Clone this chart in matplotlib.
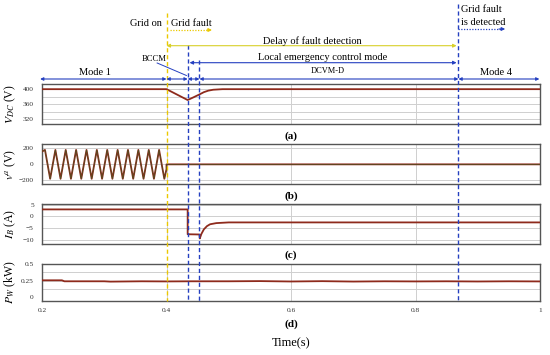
import matplotlib
matplotlib.use("Agg")
import matplotlib.pyplot as plt

plt.rcParams['font.family'] = ['Liberation Serif', 'DejaVu Serif']
plt.rcParams['mathtext.fontset'] = 'stix'

# ---------------- data ----------------
t_vdc = [0.2, 0.4, 0.434, 0.443, 0.453, 0.460, 0.467, 0.475, 0.49, 1.0]
vdc = [400, 400, 371, 378, 386, 392, 396, 398.5, 400, 400]

t_va = [0.2, 0.2048, 0.2131, 0.2215, 0.2298, 0.2381, 0.2465, 0.2548, 0.2631,
        0.2715, 0.2798, 0.2881, 0.2965, 0.3048, 0.3131, 0.3215, 0.3298,
        0.3381, 0.3465, 0.3548, 0.3631, 0.3715, 0.3798, 0.3881, 0.3965,
        0.4, 0.4, 1.0]
va = [160, 180, -180, 180, -180, 180, -180, 180, -180,
      180, -180, 180, -180, 180, -180, 180, -180,
      180, -180, 180, -180, 180, -180, 180, -180,
      -60, 0, 0]

t_ib = [0.2, 0.434, 0.434, 0.453, 0.4535, 0.456, 0.460, 0.465, 0.470, 0.480, 0.50, 1.0]
ib = [3.0, 3.0, -7.7, -7.8, -9.5, -7.6, -5.6, -4.2, -3.4, -2.9, -2.6, -2.6]

t_pw = [0.2, 0.232, 0.236, 0.3, 0.31, 0.36, 0.40, 0.44, 0.5, 0.55, 0.6, 0.65,
        0.7, 0.75, 0.8, 0.85, 0.9, 0.95, 1.0]
pw = [0.255, 0.255, 0.24, 0.24, 0.235, 0.24, 0.238, 0.24, 0.24, 0.243, 0.237,
      0.242, 0.236, 0.24, 0.238, 0.24, 0.237, 0.24, 0.238]

x_ticks = [0.2, 0.4, 0.6, 0.8, 1.0]
x_ticklabels = ['0.2', '0.4', '0.6', '0.8', '1']

t_on, t_f1, t_f2, t_det = 0.4, 0.434, 0.453, 0.869

# ---------------- figure ----------------
W, H = 550, 355
fig = plt.figure(figsize=(W / 100, H / 100), dpi=100)

LINE = '#8E2A1C'
FRAME = '#555555'
GRID = '#CFCFCF'

def px_axes(top, bottom, left=42, right=540):
    return fig.add_axes([left / W, 1 - bottom / H, (right - left) / W, (bottom - top) / H])

panels = [
    dict(top=84.3, bottom=124, ylim=(307, 413), ticks=[320, 360, 400],
         grid=[320, 340, 360, 380, 400], label=r'$V_{DC}$ (V)', t=t_vdc, y=vdc),
    dict(top=144.3, bottom=184, ylim=(-245, 250), ticks=[-200, 0, 200],
         grid=[-200, 0, 200], label=r'$v^{a}$ (V)', t=t_va, y=va),
    dict(top=204.3, bottom=244, ylim=(-11.9, 5.2), ticks=[-10, -5, 0, 5],
         grid=[-10, -5, 0, 5], label=r'$I_{B}$ (A)', t=t_ib, y=ib),
    dict(top=264.3, bottom=300.7, ylim=(-0.057, 0.5), ticks=[0, 0.25, 0.5],
         grid=[0.125, 0.25, 0.375], label=r'$P_{W}$ (kW)', t=t_pw, y=pw),
]
tick_fmt = [None, None, None, ['0', '0.25', '0.5']]

axes = []
for i, p in enumerate(panels):
    ax = px_axes(p['top'], p['bottom'])
    ax.set_xlim(0.2, 1.0)
    ax.set_ylim(*p['ylim'])
    for g in p['grid']:
        ax.axhline(g, color=GRID, lw=0.7, zorder=1)
    for g in [0.4, 0.6, 0.8]:
        ax.axvline(g, color=GRID, lw=0.7, zorder=1)
    ax.plot(p['t'], p['y'], color=LINE, lw=1.3, zorder=3)
    if i == 1:
        ax.plot(p['t'], p['y'], color='#3F5A22', lw=0.4, zorder=4)
    ax.set_yticks(p['ticks'])
    if tick_fmt[i] is not None:
        ax.set_yticklabels(tick_fmt[i])
    ax.tick_params(axis='both', length=0, labelsize=5.3, pad=6, colors='#333333')
    if i < 3:
        ax.set_xticks([])
    else:
        ax.set_xticks(x_ticks)
        ax.set_xticklabels(x_ticklabels)
        ax.tick_params(axis='x', pad=5)
    for s in ax.spines.values():
        s.set_color(FRAME)
        s.set_linewidth(1.0)
    ax.set_ylabel(p['label'], fontsize=8.5, labelpad=0)
    ax.yaxis.set_label_coords(-(42 - 18) / (540 - 42), 0.5)
    axes.append(ax)

# ---------------- overlay ----------------
ov = fig.add_axes([0, 0, 1, 1], facecolor='none', zorder=10)
ov.set_xlim(0.2 - 42 / 622.5, 0.2 + (W - 42) / 622.5)
ov.set_ylim(H, 0)
ov.axis('off')

YEL = '#EBC800'
YEL2 = '#D8D02A'
BLUE = '#2540C0'

ov.plot([t_on, t_on], [13, 300.7], color=YEL, lw=1.0, ls=(0, (3, 2)))
ov.plot([t_f1, t_f1], [45, 300.7], color=BLUE, lw=1.0, ls=(0, (3, 2)))
ov.plot([t_f2, t_f2], [60, 300.7], color=BLUE, lw=1.0, ls=(0, (3, 2)))
ov.plot([t_det, t_det], [4, 300.7], color=BLUE, lw=1.0, ls=(0, (3, 2)))

def arrow(x1, x2, y, color, style='<|-|>', lw=0.8, ms=5):
    ov.annotate('', xy=(x2, y), xytext=(x1, y),
                arrowprops=dict(arrowstyle=style, color=color, lw=lw,
                                shrinkA=0, shrinkB=0, mutation_scale=ms))

# Grid fault dotted arrow
ov.plot([0.406, 0.468], [30, 30], color=YEL, lw=0.9, ls=(0, (1, 1.2)))
arrow(0.465, 0.473, 30, YEL, style='-|>')
# Delay of fault detection
arrow(t_on, t_det - 0.003, 45.7, YEL2)
# Local emergency control mode
arrow(t_f1 + 0.003, t_det - 0.003, 62.7, BLUE)
# Grid fault detected dotted arrow
ov.plot([t_det, 0.937], [29, 29], color=BLUE, lw=0.9, ls=(0, (1, 1.2)))
arrow(0.934, 0.944, 29, BLUE, style='-|>')
# Modes row
for a, b in [(0.197, t_on), (t_on, t_f1), (t_f1, t_f2), (t_f2, t_det), (t_det, 0.999)]:
    arrow(a, b, 79, BLUE, ms=4.5)

# BCCM leader line
ov.plot([0.385, 0.432], [63, 75.5], color=BLUE, lw=0.7)

FS = 7.5
ov.text(0.3928, 23, 'Grid on', ha='right', va='center', fontsize=FS)
ov.text(0.4072, 23, 'Grid fault', ha='left', va='center', fontsize=FS)
ov.text(0.555, 41, 'Delay of fault detection', ha='left', va='center', fontsize=FS)
ov.text(0.547, 57, 'Local emergency control mode', ha='left', va='center', fontsize=FS)
ov.text(0.4, 59, 'BCCM', ha='right', va='center', fontsize=6.2)
ov.text(0.2843, 72.5, 'Mode 1', ha='center', va='center', fontsize=FS)
ov.text(0.659, 70.7, 'DCVM-D', ha='center', va='center', fontsize=6)
ov.text(0.929, 72.5, 'Mode 4', ha='center', va='center', fontsize=FS)
ov.text(0.8725, 10, 'Grid fault', ha='left', va='center', fontsize=FS)
ov.text(0.8725, 22.7, 'is detected', ha='left', va='center', fontsize=FS)

tc = 0.6
ov.text(tc, 136, '(a)', ha='center', va='center', fontsize=8, fontweight='bold')
ov.text(tc, 196, '(b)', ha='center', va='center', fontsize=8, fontweight='bold')
ov.text(tc, 255, '(c)', ha='center', va='center', fontsize=8, fontweight='bold')
ov.text(tc, 324, '(d)', ha='center', va='center', fontsize=8, fontweight='bold')
ov.text(tc, 343, 'Time(s)', ha='center', va='center', fontsize=9)

fig.savefig('out.png', dpi=100)
